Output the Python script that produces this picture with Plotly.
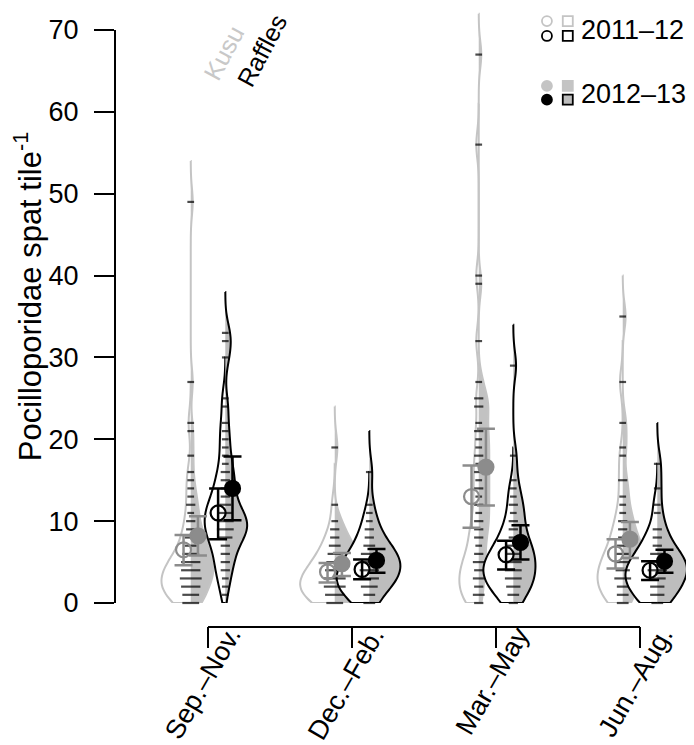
import plotly.graph_objects as go
import numpy as np
from collections import Counter

seasons = ["Sep.–Nov.", "Dec.–Feb.", "Mar.–May", "Jun.–Aug."]
years = ["2011–12", "2012–13"]
yticks = [0, 10, 20, 30, 40, 50, 60, 70]

# spat per tile, one list per season
kusu_1112 = [
    [0, 0, 0, 1, 1, 1, 2, 2, 2, 2, 3, 3, 3, 3, 4, 4, 4, 5, 5, 5, 6, 6, 7, 8, 9, 10, 12, 14, 16, 22],
    [0, 0, 0, 1, 1, 1, 1, 2, 2, 2, 2, 3, 3, 3, 3, 4, 4, 4, 5, 5, 6, 6, 7, 8, 9, 12],
    [0, 0, 1, 1, 2, 2, 3, 3, 4, 4, 5, 5, 6, 7, 8, 9, 10, 12, 14, 16, 18, 21, 25, 32, 40, 56],
    [0, 0, 1, 1, 2, 2, 3, 3, 3, 4, 4, 5, 5, 6, 6, 7, 8, 9, 10, 12, 15, 18, 27],
]
kusu_1213 = [
    [0, 0, 1, 1, 2, 2, 3, 3, 3, 4, 4, 4, 5, 5, 5, 6, 6, 6, 7, 7, 8, 8, 9, 10, 11, 12, 13, 15, 18, 21, 27, 49],
    [0, 0, 1, 1, 2, 2, 2, 3, 3, 3, 4, 4, 4, 5, 5, 5, 6, 6, 7, 7, 8, 9, 10, 19],
    [1, 3, 5, 6, 8, 9, 10, 11, 12, 13, 14, 15, 16, 17, 18, 19, 20, 21, 22, 24, 24, 25, 27, 39, 67],
    [0, 1, 2, 3, 3, 4, 4, 5, 5, 6, 6, 7, 7, 8, 9, 10, 11, 13, 15, 19, 22, 35],
]
raffles_1112 = [
    [1, 3, 4, 5, 6, 7, 8, 8, 9, 9, 10, 10, 11, 11, 12, 12, 13, 14, 15, 16, 18, 20, 22, 25],
    [0, 0, 1, 1, 2, 2, 2, 3, 3, 3, 4, 4, 4, 5, 5, 6, 6, 7, 8, 9, 11],
    [0, 1, 1, 2, 2, 3, 3, 3, 4, 4, 4, 5, 5, 5, 6, 6, 7, 7, 8, 9, 10, 12, 14],
    [0, 0, 1, 1, 2, 2, 3, 3, 3, 4, 4, 4, 5, 5, 6, 6, 7, 8, 9, 12],
]
raffles_1213 = [
    [2, 4, 5, 6, 7, 8, 8, 9, 9, 9, 10, 10, 10, 11, 11, 12, 13, 14, 15, 16, 17, 19, 21, 24, 30, 32, 33],
    [0, 1, 2, 2, 3, 3, 3, 4, 4, 4, 5, 5, 5, 6, 6, 6, 7, 7, 8, 9, 10, 12, 16],
    [0, 1, 2, 2, 3, 3, 4, 4, 5, 5, 6, 6, 7, 7, 8, 9, 10, 11, 12, 13, 15, 18, 29],
    [0, 1, 1, 2, 2, 3, 3, 4, 4, 4, 5, 5, 5, 6, 6, 7, 8, 9, 11, 14, 17],
]

# estimated means with lower / upper limits
kusu_mean_1112 = [6.5, 3.8, 13.0, 6.0]
kusu_lo_1112 = [4.6, 2.5, 9.2, 4.2]
kusu_hi_1112 = [8.3, 4.9, 16.8, 7.8]
kusu_mean_1213 = [8.2, 4.8, 16.6, 7.8]
kusu_lo_1213 = [5.8, 3.3, 11.9, 5.5]
kusu_hi_1213 = [10.6, 6.1, 21.3, 9.9]
raffles_mean_1112 = [11.0, 4.1, 5.9, 4.0]
raffles_lo_1112 = [7.8, 2.9, 4.1, 2.8]
raffles_hi_1112 = [14.0, 5.3, 7.6, 5.1]
raffles_mean_1213 = [14.0, 5.2, 7.4, 5.1]
raffles_lo_1213 = [10.1, 3.7, 5.3, 3.7]
raffles_hi_1213 = [17.9, 6.6, 9.5, 6.5]

FONT = "Liberation Sans, Arial, Helvetica, sans-serif"
KUSU_LINE = "#c4c4c4"
KUSU_FILL = "#c2c2c2"
KUSU_PT = "#8c8c8c"
RAF_FILL = "#bdbdbd"

pos = np.arange(1, len(seasons) + 1)
kusu_x = pos - 0.12
raf_x = pos + 0.12

# one smoothing bandwidth for every bean (pooled data)
pooled = np.concatenate([np.concatenate(g) for g in (kusu_1112, kusu_1213, raffles_1112, raffles_1213)])
q1, q3 = np.percentile(pooled, [25, 75])
BW = 1.059 * min(pooled.std(ddof=1), (q3 - q1) / 1.349) * len(pooled) ** -0.2


def bean(vals, x, side, line, fill, xaxis):
    return go.Violin(x=[x] * len(vals), y=vals, orientation="v", side=side,
                     xaxis=xaxis, yaxis="y", line=dict(color=line, width=2),
                     fillcolor=fill, points=False, bandwidth=BW,
                     spanmode="manual", span=[0, max(vals) + 3 * BW],
                     scalegroup="beans", scalemode="width",
                     hoverinfo="skip", showlegend=False)


fig = go.Figure()

# Kusu beans on x, Raffles on x2 (same range) so both keep the full width
for i in range(len(seasons)):
    fig.add_trace(bean(kusu_1112[i], kusu_x[i], "negative", KUSU_LINE, "white", "x"))
    fig.add_trace(bean(kusu_1213[i], kusu_x[i], "positive", KUSU_LINE, KUSU_FILL, "x"))
for i in range(len(seasons)):
    fig.add_trace(bean(raffles_1112[i], raf_x[i], "negative", "black", "white", "x2"))
    fig.add_trace(bean(raffles_1213[i], raf_x[i], "positive", "black", RAF_FILL, "x2"))

# bean lines: one dash per value, longer when repeated
for xs, a, b in [(kusu_x, kusu_1112, kusu_1213), (raf_x, raffles_1112, raffles_1213)]:
    for i in range(len(seasons)):
        cnt = Counter(a[i] + b[i])
        ys = sorted(cnt)
        fig.add_trace(go.Scatter(
            x=[xs[i]] * len(ys), y=ys, mode="markers", xaxis="x3", yaxis="y",
            marker=dict(symbol="line-ew", size=[3 + 1.8 * cnt[v] for v in ys],
                        line=dict(color="black", width=2.2)),
            hoverinfo="skip", showlegend=False, cliponaxis=False))

# means with error bars
groups = [
    (kusu_x - 0.05, kusu_mean_1112, kusu_lo_1112, kusu_hi_1112, KUSU_PT, "circle-open"),
    (kusu_x + 0.05, kusu_mean_1213, kusu_lo_1213, kusu_hi_1213, KUSU_PT, "circle"),
    (raf_x - 0.05, raffles_mean_1112, raffles_lo_1112, raffles_hi_1112, "black", "circle-open"),
    (raf_x + 0.05, raffles_mean_1213, raffles_lo_1213, raffles_hi_1213, "black", "circle"),
]
for xs, m, lo, hi, col, sym in groups:
    m, lo, hi = np.array(m), np.array(lo), np.array(hi)
    fig.add_trace(go.Scatter(
        x=xs, y=m, mode="markers", xaxis="x3", yaxis="y",
        marker=dict(symbol=sym, size=15, color=col, line=dict(color=col, width=2.2)),
        error_y=dict(type="data", symmetric=False, array=hi - m, arrayminus=m - lo,
                     color=col, thickness=2.5, width=9),
        hoverinfo="skip", showlegend=False, cliponaxis=False))

# legend block (paper-like axes x4/y2)
leg = [
    (0.746, 0.978, "circle-open", KUSU_LINE, KUSU_LINE),
    (0.782, 0.978, "square-open", KUSU_LINE, KUSU_LINE),
    (0.746, 0.953, "circle-open", "black", "black"),
    (0.782, 0.953, "square-open", "black", "black"),
    (0.746, 0.869, "circle", KUSU_LINE, KUSU_LINE),
    (0.782, 0.869, "square", KUSU_LINE, KUSU_LINE),
    (0.746, 0.846, "circle", "black", "black"),
    (0.782, 0.846, "square", RAF_FILL, "black"),
]
for lx, ly, sym, fc, lc in leg:
    fig.add_trace(go.Scatter(
        x=[lx], y=[ly], mode="markers", xaxis="x4", yaxis="y2",
        marker=dict(symbol=sym, size=10, color=fc, line=dict(color=lc, width=1.8)),
        hoverinfo="skip", showlegend=False, cliponaxis=False))

annotations = [
    dict(x=0.802, y=0.963, xref="paper", yref="paper", text=years[0], showarrow=False,
         xanchor="left", yanchor="middle", font=dict(size=27, color="black")),
    dict(x=0.802, y=0.856, xref="paper", yref="paper", text=years[1], showarrow=False,
         xanchor="left", yanchor="middle", font=dict(size=27, color="black")),
    dict(x=kusu_x[0] + 0.03, y=63.0, xref="x", yref="y", text="Kusu", showarrow=False,
         textangle=-62, xanchor="left", yanchor="bottom",
         font=dict(size=25, color="#c8c8c8")),
    dict(x=raf_x[0] + 0.02, y=62.2, xref="x", yref="y", text="Raffles", showarrow=False,
         textangle=-62, xanchor="left", yanchor="bottom",
         font=dict(size=25, color="black")),
    dict(x=-0.1502, y=0.514, xref="paper", yref="paper",
         text="Pocilloporidae spat tile<sup>-1</sup>", showarrow=False,
         textangle=-90, xanchor="center", yanchor="middle",
         font=dict(size=31, color="black")),
]
for i, s in enumerate(seasons):
    annotations.append(dict(x=pos[i] + 0.29, y=-0.027, xref="x", yref="paper", text=s,
                            showarrow=False, textangle=-60, xanchor="right", yanchor="top",
                            font=dict(size=27, color="black")))

shapes = [dict(type="line", xref="paper", yref="y", x0=0, x1=0, y0=yticks[0], y1=yticks[-1],
               line=dict(color="black", width=2))]
br_y0, br_y1 = -0.0403, -0.0756
shapes.append(dict(type="line", xref="x", yref="paper", x0=pos[0], x1=pos[-1],
                   y0=br_y0, y1=br_y0, line=dict(color="black", width=2)))
for p in pos:
    shapes.append(dict(type="line", xref="x", yref="paper", x0=p, x1=p,
                       y0=br_y0, y1=br_y1, line=dict(color="black", width=2)))

xr = [0.354, 4.375]
hidden = dict(range=xr, visible=False, showgrid=False, zeroline=False)
fig.update_layout(
    width=686, height=737,
    margin=dict(l=107, r=0, t=0, b=142),
    paper_bgcolor="white", plot_bgcolor="white",
    font=dict(family=FONT, size=27, color="black"),
    violinmode="overlay", violingap=0.52, violingroupgap=0,
    xaxis=dict(**hidden),
    xaxis2=dict(**hidden, overlaying="x"),
    xaxis3=dict(**hidden, overlaying="x"),
    xaxis4=dict(range=[0, 1], visible=False, overlaying="x", anchor="y2"),
    yaxis=dict(range=[0, 72.69], tickvals=yticks, ticks="outside", ticklen=20,
               tickwidth=2, tickcolor="black", showline=False, showgrid=False,
               zeroline=False, tickfont=dict(size=27), ticklabelstandoff=10),
    yaxis2=dict(range=[0, 1], visible=False, overlaying="y", anchor="x4"),
    annotations=annotations,
    shapes=shapes,
    showlegend=False,
)

fig.write_html("out.html")
